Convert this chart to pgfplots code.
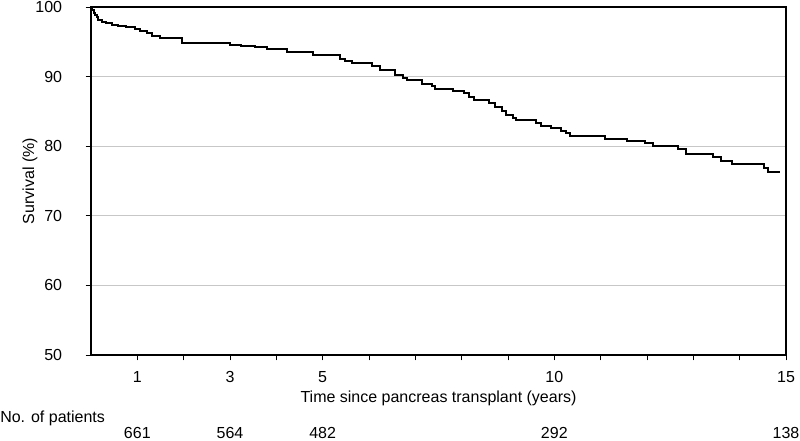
\documentclass[border=0pt]{standalone}
\usepackage{fontspec}
\setmainfont{Liberation Sans}
\usepackage{pgfplots}
\pgfplotsset{compat=1.18}
\begin{document}
\fontsize{12pt}{14pt}\selectfont
\begin{tikzpicture}
\useasboundingbox (0,0) rectangle (600pt,330pt);
\begin{axis}[
  at={(68.25pt,63.75pt)}, anchor=south west,
  scale only axis, width=521.25pt, height=261pt,
  xmin=0, xmax=15, ymin=50, ymax=100,
  xtick={1,3,5,10,15},
  minor xtick={2,4,6,7,8,9,11,12,13,14},
  ytick={50,60,70,80,90,100},
  tick align=outside,
  major tick length=4pt, minor tick length=4pt,
  xtick pos=bottom, ytick pos=left,
  every tick/.style={black, line width=0.6pt},
  axis line style={line width=1.5pt},
  ymajorgrids, grid style={color=black!22, line width=0.75pt},
  /pgf/number format/assume math mode=true,
  tick label style={font=\fontsize{12pt}{14pt}\selectfont},
  label style={font=\fontsize{12pt}{14pt}\selectfont},
  every x tick label/.append style={anchor=center, yshift=-12.75pt},
  every y tick label/.append style={anchor=east, xshift=-13.5pt},
  xlabel={Time since pancreas transplant (years)},
  ylabel={Survival (\%)},
  every axis x label/.style={at={(axis description cs:0.5,-0.1235)}, anchor=center},
  every axis y label/.style={at={(axis description cs:-0.0878,0.5)}, rotate=90, anchor=center},
  clip=false,
]
\addplot[const plot, black, line width=1.5pt] coordinates {
(0,100) (0.03,99.6) (0.06,99.2) (0.09,98.9) (0.12,98.5) (0.16,98.1)
(0.24,97.9) (0.32,97.7) (0.45,97.4) (0.59,97.2) (0.76,97.1) (0.95,96.9)
(1.06,96.5) (1.20,96.2) (1.31,95.8) (1.49,95.5) (1.96,94.9) (2.99,94.6)
(3.24,94.45) (3.54,94.2) (3.79,93.9) (4.22,93.6) (4.79,93.1) (5.37,92.6)
(5.48,92.3) (5.63,92.0) (6.06,91.5) (6.24,91.0) (6.56,90.2) (6.73,89.75)
(6.82,89.5) (7.14,89.0) (7.36,88.6) (7.42,88.2) (7.81,87.9) (8.05,87.6)
(8.16,87.0) (8.27,86.6) (8.59,86.2) (8.72,85.7) (8.87,85.1) (8.96,84.5)
(9.11,84.0) (9.17,83.7) (9.60,83.3) (9.71,82.85) (9.93,82.6) (10.14,82.2)
(10.25,81.85) (10.34,81.5) (11.09,81.0) (11.57,80.75) (11.96,80.4) (12.13,80.1)
(12.67,79.6) (12.84,78.9) (13.43,78.5) (13.60,77.9) (13.84,77.4) (14.53,76.8)
(14.61,76.35) (14.87,76.35)
};
\node[anchor=west, inner xsep=0pt] at (axis description cs:-0.1309,-0.181) {No. of patients};
\node[anchor=center] at (axis cs:1,50) [yshift=-58.5pt] {661};
\node[anchor=center] at (axis cs:3,50) [yshift=-58.5pt] {564};
\node[anchor=center] at (axis cs:5,50) [yshift=-58.5pt] {482};
\node[anchor=center] at (axis cs:10,50) [yshift=-58.5pt] {292};
\node[anchor=center] at (axis cs:15,50) [yshift=-58.5pt] {138};
\end{axis}
\end{tikzpicture}
\end{document}
